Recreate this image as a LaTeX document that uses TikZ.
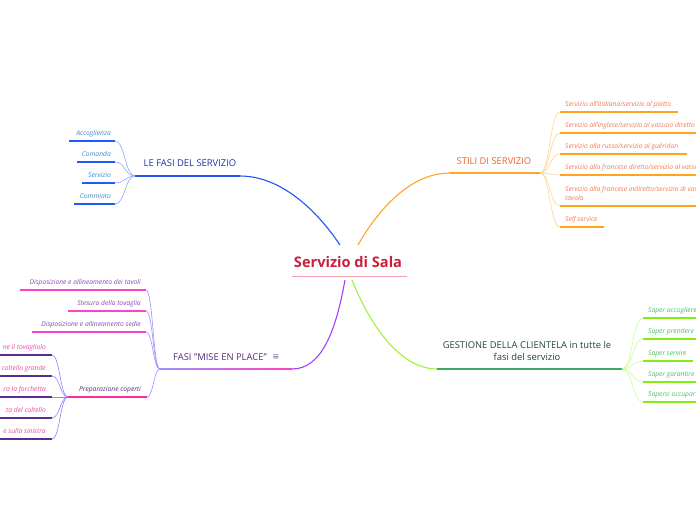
\documentclass[tikz,border=0pt]{standalone}
\usepackage{fontspec}
\setmainfont{Open Sans}
\newfontfamily\symfont{DejaVu Sans}
\usetikzlibrary{calc}
\definecolor{blueMain}{HTML}{2255EE}
\definecolor{blueTitle}{HTML}{1F2FA8}
\definecolor{blueText}{HTML}{3B8BD0}
\definecolor{blueLine}{HTML}{1E5BFF}
\definecolor{blueConn}{HTML}{8FA8FF}
\definecolor{orangeMain}{HTML}{FFA528}
\definecolor{orangeTitle}{HTML}{F0622A}
\definecolor{orangeText}{HTML}{F27A55}
\definecolor{orangeLine}{HTML}{FFA41C}
\definecolor{orangeConn}{HTML}{FFD58A}
\definecolor{greenMain}{HTML}{A0F040}
\definecolor{greenTitle}{HTML}{1E4A30}
\definecolor{greenUnder}{HTML}{3DAA6A}
\definecolor{greenText}{HTML}{4CC060}
\definecolor{greenLine}{HTML}{80EE10}
\definecolor{greenConn}{HTML}{C8FF90}
\definecolor{purpleMain}{HTML}{A040FF}
\definecolor{purpleTitle}{HTML}{5A2A78}
\definecolor{purpleText}{HTML}{8A4AB0}
\definecolor{pinkLine}{HTML}{FF40C8}
\definecolor{purpleConn}{HTML}{A090FF}
\definecolor{prepText}{HTML}{5A2A88}
\definecolor{prepLine}{HTML}{FF2AA0}
\definecolor{prepChildText}{HTML}{E84AA8}
\definecolor{prepChildLine}{HTML}{5A2D90}
\definecolor{prepConn}{HTML}{8C80FF}
\definecolor{titleCol}{HTML}{C8203A}
\definecolor{titleLine}{HTML}{F4A0B0}
\newcommand{\conn}[3]{\draw[#1] let \p1=(#2), \p2=(#3) in (#2) .. controls ({(\x1+\x2)/2},\y1) and ({(\x1+\x2)/2},\y2) .. (#3);}
\tikzset{
  leaf/.style={inner sep=0pt, font=\fontsize{6.7}{8.2}\selectfont\itshape},
  topic/.style={inner sep=0pt, font=\fontsize{9.4}{11.5}\selectfont, align=center},
  conline/.style={line width=0.6pt},
  uline/.style={line width=1.4pt},
}
\begin{document}
\begin{tikzpicture}[x=1pt,y=-1pt]
\useasboundingbox (0,0) rectangle (696,520);
\clip (0,0) rectangle (696,520);
\fill[white] (0,0) rectangle (696,520);

% center
\node[inner sep=0pt, font=\fontsize{14.6}{16}\selectfont\bfseries, text=titleCol] (root) at (348,262) {Servizio di Sala};
\coordinate (rootL) at (292,276);
\coordinate (rootR) at (407,276);
\draw[titleLine, line width=0.6pt] (rootL) -- (rootR);
\coordinate (cB) at (340,245);
\coordinate (cO) at (358,245);
\coordinate (cG) at (352,280);
\coordinate (cP) at (345,280);

% ---------------- blue branch
\coordinate (bA) at (240,176);
\coordinate (bF) at (135,176);
\draw[blueMain, line width=1.1pt] (cB) .. controls (318,212) and (282,176) .. (bA);
\draw[blueMain, uline] (bA) -- (bF);
\node[topic, text=blueTitle, anchor=base] (fasi) at (190,166.5) {LE FASI DEL SERVIZIO};
\foreach \k/\t/\y/\x in {b1/Accoglienza/141/69, b2/Comanda/162/77, b3/Servizio/183/82, b4/Commiato/204/74}{
  \coordinate (\k R) at (115,\y);
  \coordinate (\k L) at (\x,\y);
  \draw[blueLine, uline] (\k L) -- (\k R);
  \conn{blueConn, conline}{bF}{\k R}
  \node[leaf, text=blueText, anchor=base east] (\k) at (111,\y-5.5) {\t};
}

% ---------------- orange branch
\coordinate (oA) at (450,173);
\coordinate (oF) at (540,173);
\draw[orangeMain, line width=1.1pt] (cO) .. controls (378,210) and (410,173) .. (oA);
\draw[orangeMain, uline] (oA) -- (oF);
\node[topic, text=orangeTitle, anchor=base] (stili) at (494,164.5) {STILI DI SERVIZIO};
\foreach \k/\t/\y/\x in {o1/{Servizio all'italiana/servizio al piatto}/112/678, o2/{Servizio all'inglese/servizio al vassoio diretto}/133/720, o3/{Servizio alla russa/servizio al guéridon}/154/687, o4/{Servizio alla francese diretto/servizio al vassoio}/175/720, o6/{Self service}/227/604}{
  \coordinate (\k L) at (560,\y);
  \coordinate (\k R) at (\x,\y);
  \draw[orangeLine, uline] (\k L) -- (\k R);
  \conn{orangeConn, conline}{oF}{\k L}
  \node[leaf, text=orangeText, anchor=base west] (\k) at (565,\y-5.5) {\t};
}
\coordinate (o5L) at (560,206);
\coordinate (o5R) at (720,206);
\draw[orangeLine, uline] (o5L) -- (o5R);
\conn{orangeConn, conline}{oF}{o5L}
\node[leaf, text=orangeText, anchor=base west] (o5a) at (565,191.5) {Servizio alla francese indiretto/servizio di vassoio};
\node[leaf, text=orangeText, anchor=base west] (o5b) at (565,200) {tavola};

% ---------------- green branch
\coordinate (gA) at (437,369);
\coordinate (gF) at (622,369);
\draw[greenMain, line width=1.1pt] (cG) .. controls (370,325) and (400,369) .. (gA);
\draw[greenUnder, uline] (gA) -- (gF);
\node[topic, text=greenTitle] (gest) at (527,351) {GESTIONE DELLA CLIENTELA in tutte le\\fasi del servizio};
\foreach \k/\t/\y/\x in {g1/{Saper accogliere}/318/720, g2/{Saper prendere}/339/720, g3/{Saper servire}/361/693, g4/{Saper garantire}/382/720, g5/{Sapersi occupare}/402/720}{
  \coordinate (\k L) at (643,\y);
  \coordinate (\k R) at (\x,\y);
  \draw[greenLine, uline] (\k L) -- (\k R);
  \conn{greenConn, conline}{gF}{\k L}
  \node[leaf, text=greenText, anchor=base west] (\k) at (648,\y-5.5) {\t};
}

% ---------------- purple branch
\coordinate (pA) at (292,369);
\coordinate (pF) at (160,369);
\draw[purpleMain, line width=1.1pt] (cP) .. controls (336,330) and (322,369) .. (pA);
\shade[left color=purpleConn, right color=pinkLine] ($(pF)+(0,-0.7)$) rectangle ($(pA)+(0,0.7)$);
\node[topic, text=purpleTitle, anchor=base] (mise) at (220,360.5) {FASI "MISE EN PLACE"};
\node[inner sep=0pt, font=\symfont\fontsize{8.5}{9}\selectfont, text=purpleTitle!75] (icon) at (276,357.5) {≡};
\foreach \k/\t/\y/\x in {p1/{Disposizione e allineamento dei tavoli}/290/20, p2/{Stesura della tovaglia}/311/68, p3/{Disposizione e allineamento sedie}/332/32}{
  \coordinate (\k R) at (146,\y);
  \coordinate (\k L) at (\x,\y);
  \draw[pinkLine, uline] (\k L) -- (\k R);
  \conn{purpleConn, conline}{pF}{\k R}
  \node[leaf, text=purpleText, anchor=base east] (\k) at (141,\y-5.5) {\t};
}
% Preparazione coperti
\coordinate (qR) at (147,397);
\coordinate (qF) at (68,397);
\conn{purpleConn, conline}{pF}{qR}
\draw[prepLine, uline] (qF) -- (qR);
\node[leaf, text=prepText, anchor=base] (prep) at (110,391) {Preparazione coperti};
\foreach \k/\t/\y in {q1/{ne il tovagliolo}/355, q2/{coltello grande}/376, q3/{ra la forchetta}/397, q4/{ta del coltello}/418, q5/{e sulla sinistra}/439}{
  \coordinate (\k R) at (52,\y);
  \coordinate (\k L) at (-10,\y);
  \draw[prepChildLine, uline] (\k L) -- (\k R);
  \conn{prepConn, conline}{qF}{\k R}
  \node[leaf, text=prepChildText, anchor=base east] (\k) at (46,\y-5.5) {\t};
}
\end{tikzpicture}
\end{document}
